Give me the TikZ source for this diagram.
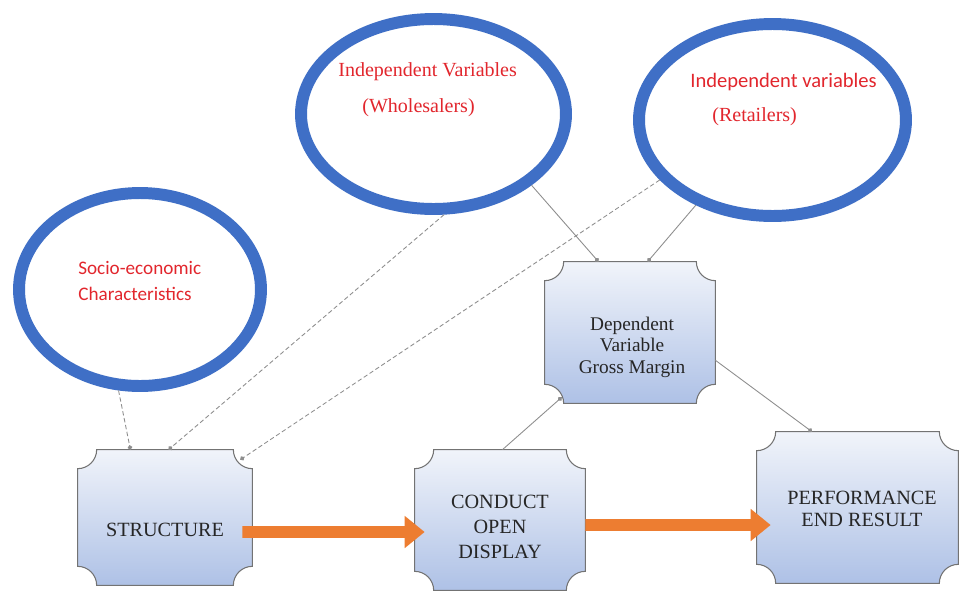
\documentclass[tikz,border=0pt]{standalone}
\usepackage{fontspec}
\setmainfont{Liberation Serif}
\newfontfamily\calibri{Carlito}
\usepackage{tikz}
\usetikzlibrary{shapes.geometric,arrows.meta,calc,backgrounds}
\definecolor{ringblue}{HTML}{3F6FC6}
\definecolor{labelred}{HTML}{E2262D}
\definecolor{floworange}{HTML}{ED7D31}
\definecolor{plaquetop}{HTML}{F1F4FA}
\definecolor{plaquebot}{HTML}{AEC1E6}
\definecolor{linkgray}{HTML}{8E8E8E}
\def\plaqr{0.38cm}

\begin{document}
\begin{tikzpicture}[x=0.02cm,y=-0.02cm,
    ring/.style={ellipse,draw=ringblue,line width=6.8pt,fill=white,inner sep=0pt},
    plaque/.style={rectangle,inner sep=0pt},
    ringtext/.style={anchor=west,inner sep=0pt,text=labelred,font=\fontsize{11.4}{14}\selectfont},
    boxtext/.style={align=center,text=black!85},
    link/.style={draw=linkgray,line width=0.5pt,-{Circle[length=2.6pt]}},
    dlink/.style={link,dash pattern=on 2.5pt off 1.5pt},
    flow/.style={draw=floworange,line width=6.8pt,-{Triangle[length=0.4cm,width=0.62cm]}}]
    \useasboundingbox (0,0) rectangle (960,592);

    % ellipses
    \node[ring,minimum width=4.84cm,minimum height=3.86cm] (socio) at (140,289.5) {};
    \node[ring,minimum width=5.3cm,minimum height=3.8cm] (wholesale) at (433.5,114) {};
    \node[ring,minimum width=5.34cm,minimum height=3.84cm] (retail) at (772.5,120) {};
    \node[ringtext,align=left,font=\calibri\fontsize{10.9}{15.3}\selectfont] (sociotxt) at (78,281) {Socio-economic\\Characteristics};
    \node[ringtext] (wholetxt) at (338,72) {Independent Variables};
    \node[ringtext] (wholesubtxt) at (362,108) {(Wholesalers)};
    \node[ringtext,font=\calibri\fontsize{11.7}{14}\selectfont] (retailtxt) at (690,82) {Independent variables};
    \node[ringtext] (retailsubtxt) at (712,117) {(Retailers)};

    % boxes
    \node[plaque,minimum width=3.48cm,minimum height=2.7cm] (structure) at (165,517.5) {};
    \node[plaque,minimum width=3.4cm,minimum height=2.8cm] (conduct) at (500,520) {};
    \node[plaque,minimum width=4.02cm,minimum height=3.02cm] (performance) at (857.5,507.5) {};
    \node[plaque,minimum width=3.4cm,minimum height=2.82cm] (dependent) at (630,332.5) {};
    \begin{scope}[on background layer]
      \fill[white] (0,0) rectangle (960,592);
      \foreach \b in {structure,conduct,performance,dependent}{
        \draw[draw=black!55,line width=0.6pt,top color=plaquetop,bottom color=plaquebot]
          ($(\b.north west)+(0,-\plaqr)$) arc[start angle=270,end angle=360,radius=\plaqr]
          -- ($(\b.north east)+(-\plaqr,0)$) arc[start angle=180,end angle=270,radius=\plaqr]
          -- ($(\b.south east)+(0,\plaqr)$) arc[start angle=90,end angle=180,radius=\plaqr]
          -- ($(\b.south west)+(\plaqr,0)$) arc[start angle=0,end angle=90,radius=\plaqr]
          -- cycle;
      }
    \end{scope}
    \node[boxtext,font=\fontsize{11.5}{14}\selectfont] (structuretxt) at (165,530) {STRUCTURE};
    \node[boxtext,font=\fontsize{11.5}{14.2}\selectfont] (conducttxt) at (500,527) {CONDUCT\\OPEN\\DISPLAY};
    \node[boxtext,font=\fontsize{11.5}{12.5}\selectfont] (performancetxt) at (862,509) {PERFORMANCE\\END RESULT};
    \node[boxtext,font=\fontsize{11}{12.2}\selectfont] (dependenttxt) at (632,347) {Dependent\\Variable\\Gross Margin};

    % connectors
    \draw[dlink] (socio.258) -- (structure.117);
    \draw[dlink] (wholesale.276) -- (structure.87);
    \draw[dlink] (retail.208) -- ($(structure.north east)+(-12,10)$);
    \draw[link] (wholesale.324) -- (dependent.114);
    \draw[link] (retail.228) -- (dependent.76);
    \draw[link] (conduct.88) -- ($(dependent.south west)+(17,-6)$);
    \draw[link] (dependent.342) -- (performance.121);

    % flow arrows
    \draw[flow] ([xshift=-0.2cm,yshift=-0.29cm]structure.east) -- ([xshift=0.2cm,yshift=-0.24cm]conduct.west);
    \draw[flow] ([yshift=-0.1cm]conduct.east) -- ([xshift=0.28cm,yshift=-0.35cm]performance.west);
\end{tikzpicture}
\end{document}
